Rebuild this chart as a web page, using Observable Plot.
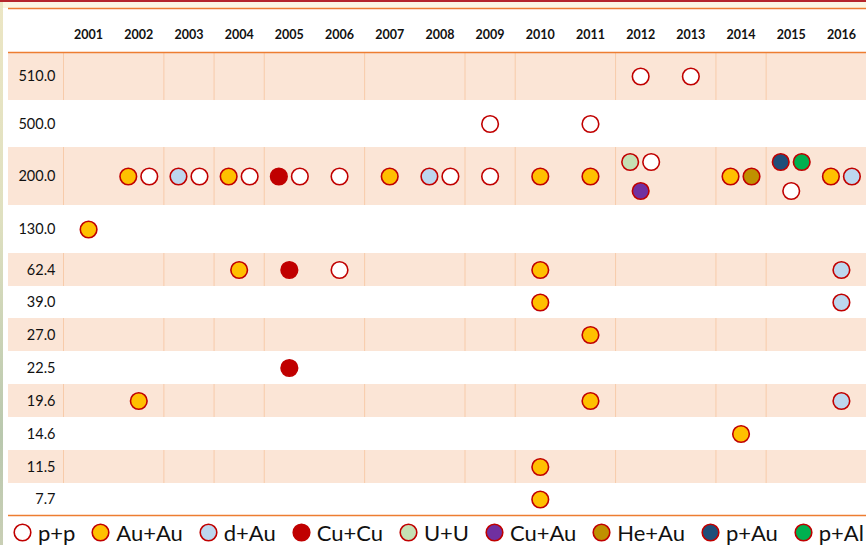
<!DOCTYPE html>
<html>
<head>
<meta charset="utf-8">
<script src="https://cdn.jsdelivr.net/npm/d3@7"></script>
<script src="https://cdn.jsdelivr.net/npm/@observablehq/plot@0.6"></script>
<style>
  html, body { margin: 0; padding: 0; }
  body { width: 866px; height: 545px; position: relative; overflow: hidden; background: #ffffff; font-family: Lato, "Open Sans", sans-serif; }
  #strip { position: absolute; left: 0; top: 0; width: 3px; height: 545px; background: linear-gradient(#ece6c4, #dfe0c0 40%, #b9c8ae 80%, #c9cfb5); }
  #redline { position: absolute; left: 0; top: 0; width: 866px; height: 2px; background: #b5262c; }
  #cream { position: absolute; left: 3px; top: 2px; width: 863px; height: 6px; background: #fcf7e3; }
  #chart { position: absolute; left: 0; top: 0; }
  #legend { position: absolute; left: 13px; top: 519px; width: 851px; height: 26px; display: flex; justify-content: space-between; align-items: center; }
  .item { display: flex; align-items: center; font-size: 22px; color: #111; white-space: nowrap; }
  .item svg { margin-right: 6px; }
</style>
</head>
<body>
<div id="strip"></div>
<div id="redline"></div>
<div id="cream"></div>
<div id="chart"></div>
<div id="legend"></div>
<script>
// ---- data ----
const years = ["2001","2002","2003","2004","2005","2006","2007","2008","2009","2010","2011","2012","2013","2014","2015","2016"];
const energies = ["510.0","500.0","200.0","130.0","62.4","39.0","27.0","22.5","19.6","14.6","11.5","7.7"];
const species = ["p+p","Au+Au","d+Au","Cu+Cu","U+U","Cu+Au","He+Au","p+Au","p+Al"];
const speciesColors = ["#FFFFFF","#FFC000","#BDD7EE","#C00000","#C5E0B4","#7030A0","#BF9000","#1F4E79","#00B050"];
// [year, energy (GeV), species] — order within a cell follows the table
const runs = [
  ["2012","510.0","p+p"], ["2013","510.0","p+p"],
  ["2009","500.0","p+p"], ["2011","500.0","p+p"],
  ["2002","200.0","Au+Au"], ["2002","200.0","p+p"],
  ["2003","200.0","d+Au"], ["2003","200.0","p+p"],
  ["2004","200.0","Au+Au"], ["2004","200.0","p+p"],
  ["2005","200.0","Cu+Cu"], ["2005","200.0","p+p"],
  ["2006","200.0","p+p"],
  ["2007","200.0","Au+Au"],
  ["2008","200.0","d+Au"], ["2008","200.0","p+p"],
  ["2009","200.0","p+p"],
  ["2010","200.0","Au+Au"],
  ["2011","200.0","Au+Au"],
  ["2012","200.0","U+U"], ["2012","200.0","p+p"], ["2012","200.0","Cu+Au"],
  ["2014","200.0","Au+Au"], ["2014","200.0","He+Au"],
  ["2015","200.0","p+Au"], ["2015","200.0","p+Al"], ["2015","200.0","p+p"],
  ["2016","200.0","Au+Au"], ["2016","200.0","d+Au"],
  ["2001","130.0","Au+Au"],
  ["2004","62.4","Au+Au"], ["2005","62.4","Cu+Cu"], ["2006","62.4","p+p"], ["2010","62.4","Au+Au"], ["2016","62.4","d+Au"],
  ["2010","39.0","Au+Au"], ["2016","39.0","d+Au"],
  ["2011","27.0","Au+Au"],
  ["2005","22.5","Cu+Cu"],
  ["2002","19.6","Au+Au"], ["2011","19.6","Au+Au"], ["2016","19.6","d+Au"],
  ["2014","14.6","Au+Au"],
  ["2010","11.5","Au+Au"],
  ["2010","7.7","Au+Au"]
];
// table cell borders (left edge of these year columns, drawn in shaded rows)
const dividerYears = ["2001","2003","2004","2005","2007","2009","2010","2012","2014","2015"];

// ---- layout ----
const W = 866, H = 518, mTop = 52, mBottom = 3, mLeft = 63, mRight = 0;
const rowHeights = [48,47,58,48,33,32,33,33,33,33,33,32];
const headerH = 44;
const total = d3.sum(rowHeights);
const rows = [];
let acc = 0;
energies.forEach((e, i) => { rows.push({energy: e, i, top: acc, bottom: acc + rowHeights[i], mid: acc + rowHeights[i] / 2}); acc += rowHeights[i]; });
const rowOf = new Map(rows.map(r => [r.energy, r]));
const shaded = rows.filter(r => r.i % 2 === 0);
const bw = (W - mLeft - mRight) / years.length;

const pairDx = 10.5, tripleDy = 14.5;
const points = [];
d3.groups(runs, d => d[0] + "|" + d[1]).forEach(([, cell]) => {
  const n = cell.length;
  cell.forEach((d, k) => {
    let ox = 0, oy = 0;
    if (n === 2) ox = k === 0 ? -pairDx : pairDx;
    if (n === 3) { if (k < 2) { ox = k === 0 ? -pairDx : pairDx; oy = -tripleDy; } else { oy = tripleDy; } }
    points.push({year: d[0], energy: d[1], species: d[2], ox, y: rowOf.get(d[1]).mid + oy});
  });
});
const dividers = [];
shaded.forEach(r => dividerYears.forEach(y => dividers.push({year: y, top: r.top, bottom: r.bottom})));

const dotMarks = d3.groups(points, p => p.ox).map(([ox, pts]) =>
  Plot.dot(pts, {x: "year", y: "y", dx: ox, r: 8.3, fill: "species", stroke: "#C00000", strokeWidth: 1.6})
);

const chart = Plot.plot({
  width: W, height: H,
  marginTop: mTop, marginBottom: mBottom, marginLeft: mLeft, marginRight: mRight,
  x: {type: "band", domain: years, padding: 0, round: false, axis: null},
  y: {type: "linear", domain: [0, total], reverse: true, axis: null},
  color: {domain: species, range: speciesColors},
  style: {fontFamily: "Lato, 'Open Sans', sans-serif", background: "transparent", color: "#111"},
  marks: [
    Plot.rect(shaded, {y1: "top", y2: "bottom", fill: "#FBE5D6", insetLeft: -(mLeft - 8)}),
    Plot.ruleX(dividers, {x: "year", y1: "top", y2: "bottom", dx: -bw / 2, stroke: "#F7CBAA", strokeWidth: 1}),
    Plot.ruleY([-headerH, 0, total], {stroke: "#ED7D31", strokeWidth: 1.6, insetLeft: -(mLeft - 8)}),
    Plot.text(years, {x: d => d, frameAnchor: "top", dy: -22, fontWeight: "bold", fontSize: 12.5, fill: "#111"}),
    Plot.text(rows, {y: "mid", text: "energy", frameAnchor: "left", textAnchor: "end", dx: -8, fontSize: 14.5, fill: "#111"}),
    ...dotMarks
  ]
});
document.getElementById("chart").appendChild(chart);

// legend
const legend = d3.select("#legend");
species.forEach((s, i) => {
  const item = legend.append("div").attr("class", "item");
  const svg = item.append("svg").attr("width", 19).attr("height", 19);
  svg.append("circle").attr("cx", 9.5).attr("cy", 9.5).attr("r", 8.3)
    .attr("fill", speciesColors[i]).attr("stroke", "#C00000").attr("stroke-width", 1.6);
  item.append("span").text(s);
});
</script>
</body>
</html>
